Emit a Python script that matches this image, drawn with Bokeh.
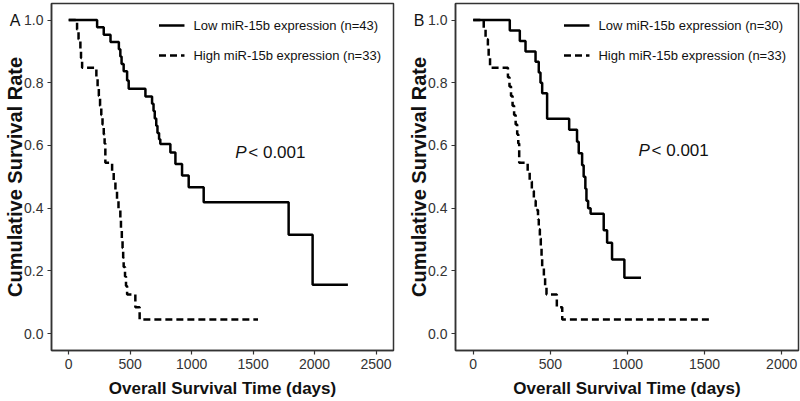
from bokeh.plotting import figure
from bokeh.layouts import row
from bokeh.models import (Range1d, FixedTicker, PrintfTickFormatter, Label, Legend, LegendItem,
                          LinearAxis)
from bokeh.embed import file_html
from bokeh.resources import INLINE

# ---------------- data ----------------
A_low_days = [0, 231, 285, 340, 408, 420, 430, 447, 475, 488, 624, 678, 690, 700, 712, 722, 735, 745,
              827, 868, 922, 976, 1098, 1789, 1984, 2271]
A_low_surv = [1.0, 0.977, 0.953, 0.930, 0.907, 0.884, 0.860, 0.837, 0.807, 0.781, 0.756, 0.733, 0.710,
              0.686, 0.663, 0.640, 0.620, 0.605, 0.578, 0.541, 0.504, 0.467, 0.419, 0.315, 0.156, 0.156]

A_high_days = [0, 68, 80, 95, 100, 109, 225, 235, 245, 255, 265, 275, 285, 292, 298, 353, 366, 380,
               393, 405, 420, 425, 432, 438, 443, 447, 458, 466, 475, 542, 577, 1540]
A_high_surv = [1.0, 0.970, 0.939, 0.909, 0.879, 0.848, 0.818, 0.788, 0.758, 0.727, 0.697, 0.667, 0.636,
               0.606, 0.545, 0.515, 0.485, 0.455, 0.424, 0.394, 0.364, 0.333, 0.303, 0.273, 0.242, 0.212,
               0.182, 0.152, 0.125, 0.084, 0.045, 0.045]

B_low_days = [0, 237, 302, 339, 404, 425, 436, 447, 479, 622, 673, 684, 706, 716, 727, 734, 745, 761,
              846, 868, 900, 980, 1088]
B_low_surv = [1.0, 0.967, 0.933, 0.900, 0.867, 0.833, 0.800, 0.767, 0.685, 0.650, 0.612, 0.575, 0.537,
              0.500, 0.462, 0.424, 0.400, 0.382, 0.330, 0.290, 0.236, 0.178, 0.178]

B_high_days = [0, 68, 80, 95, 100, 109, 225, 235, 245, 255, 265, 275, 285, 292, 298, 353, 366, 380,
               393, 405, 420, 425, 432, 438, 443, 447, 458, 466, 475, 542, 577, 1540]
B_high_surv = [1.0, 0.970, 0.939, 0.909, 0.879, 0.848, 0.818, 0.788, 0.758, 0.727, 0.697, 0.667, 0.636,
               0.606, 0.545, 0.515, 0.485, 0.455, 0.424, 0.394, 0.364, 0.333, 0.303, 0.273, 0.242, 0.212,
               0.182, 0.152, 0.125, 0.084, 0.045, 0.045]

A_xticks = [0, 500, 1000, 1500, 2000, 2500]
B_xticks = [0, 500, 1000, 1500, 2000]
y_ticks = [0.0, 0.2, 0.4, 0.6, 0.8, 1.0]

A_labels = ["Low miR-15b expression (n=43)", "High miR-15b expression (n=33)"]
B_labels = ["Low miR-15b expression (n=30)", "High miR-15b expression (n=33)"]

FONT = "Liberation Sans"
AX = "#333333"


def panel(letter, low_d, low_s, high_d, high_s, labels, xr, xticks, p_pos, width, right_border):
    p = figure(width=width, height=400, x_range=Range1d(*xr), y_range=Range1d(-0.054, 1.053),
               output_backend="svg", toolbar_location=None,
               min_border_left=0, min_border_top=3, min_border_bottom=0, min_border_right=right_border)
    p.grid.visible = False
    p.outline_line_color = AX
    p.outline_line_width = 1.5
    p.background_fill_color = "white"
    p.border_fill_color = "white"

    for ax in (p.xaxis[0], p.yaxis[0]):
        ax.axis_line_color = AX
        ax.axis_line_width = 1.5
        ax.major_tick_line_color = AX
        ax.major_tick_line_width = 1.2
        ax.major_tick_out = 4
        ax.major_tick_in = 0
        ax.minor_tick_out = 0
        ax.minor_tick_in = 0
        ax.major_label_text_font = FONT
        ax.major_label_text_font_size = "14px"
        ax.major_label_text_color = AX
        ax.axis_label_text_font = FONT
        ax.axis_label_text_font_style = "bold"
        ax.axis_label_text_color = "#111111"

    p.xaxis.ticker = FixedTicker(ticks=xticks)
    p.yaxis.ticker = FixedTicker(ticks=y_ticks)
    p.yaxis.formatter = PrintfTickFormatter(format="%.1f")
    p.xaxis.axis_label = "Overall Survival Time (days)"
    p.xaxis.axis_label_text_font_size = "17px"
    p.xaxis.major_label_standoff = 4
    p.yaxis.major_label_standoff = 4
    p.yaxis.axis_label_standoff = 0
    p.xaxis.axis_label_standoff = 7

    # outer left axis: panel letter + y title
    outer = LinearAxis(ticker=FixedTicker(ticks=[1.0]), formatter=PrintfTickFormatter(format=letter),
                       axis_line_color=None, major_tick_line_color=None, minor_tick_line_color=None,
                       major_tick_out=0, major_tick_in=0, minor_tick_out=0, minor_tick_in=0,
                       major_label_standoff=1, major_label_text_font=FONT,
                       major_label_text_font_size="16px", major_label_text_color="#111111",
                       axis_label="Cumulative Survival Rate", axis_label_text_font=FONT,
                       axis_label_text_font_style="bold", axis_label_text_font_size="20px",
                       axis_label_text_color="#111111", axis_label_standoff=-19)
    p.add_layout(outer, "left")

    r_low = p.step(low_d, low_s, mode="after", line_color="black", line_width=2.5)
    r_high = p.step(high_d, high_s, mode="after", line_color="black", line_width=2.5, line_dash="7 4")

    legend = Legend(items=[LegendItem(label=labels[0], renderers=[r_low]),
                           LegendItem(label=labels[1], renderers=[r_high])],
                    location="top_right", border_line_color=None, background_fill_alpha=0,
                    label_text_font=FONT, label_text_font_size="13px",
                    label_text_color="#111111",
                    glyph_width=26, glyph_height=20, label_height=20, label_standoff=9,
                    spacing=10, padding=0, margin=12)
    p.add_layout(legend)

    p.add_layout(Label(x=p_pos[0], y=p_pos[1], text="P", text_font=FONT, text_font_style="italic",
                       text_font_size="17px", text_baseline="middle", text_color="#111111"))
    p.add_layout(Label(x=p_pos[0], y=p_pos[1], x_offset=13, text="< 0.001", text_font=FONT,
                       text_font_size="17px", text_baseline="middle", text_color="#111111"))
    return p


pA = panel("A", A_low_days, A_low_surv, A_high_days, A_high_surv, A_labels, (-140, 2642), A_xticks,
           (1355, 0.578), 404, 11)
pB = panel("B", B_low_days, B_low_surv, B_high_days, B_high_surv, B_labels, (-115, 2109), B_xticks,
           (1072, 0.584), 396, 2)

layout = row(pA, pB, spacing=0)
open("out.html", "w").write(file_html(layout, INLINE))
